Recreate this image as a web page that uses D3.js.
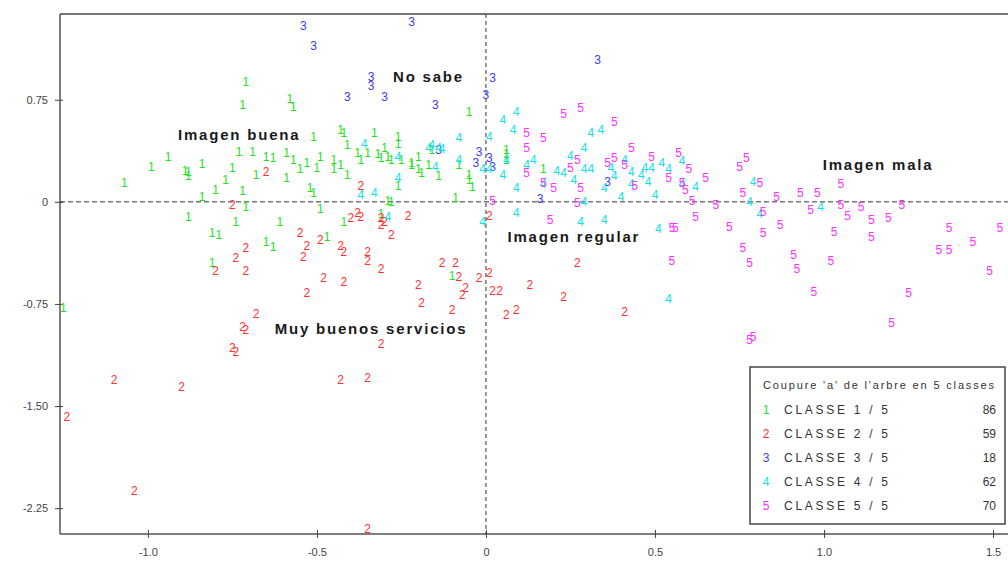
<!DOCTYPE html>
<html>
<head>
<meta charset="utf-8">
<script src="https://cdn.jsdelivr.net/npm/d3@7"></script>
<style>
  body { margin: 0; background: #fff; }
  svg { display: block; font-family: "Liberation Sans", Arial, sans-serif; }
</style>
</head>
<body>
<svg id="chart" width="1008" height="561"></svg>
<script>
// individuals on factorial plane 1-2, one array per class of the tree cut
var class1 = [
  [-0.71,0.88],[-0.72,0.71],[-0.58,0.76],[-0.57,0.70],[-0.51,0.48],[-1.07,0.14],[-0.99,0.26],[-0.94,0.33],
  [-0.89,0.23],[-0.88,0.19],[-0.84,0.28],[-0.75,0.25],[-0.73,0.37],[-0.69,0.37],[-0.65,0.33],[-0.63,0.32],
  [-0.59,0.36],[-0.68,0.20],[-0.59,0.18],[-0.53,0.29],[-0.49,0.33],[-0.45,0.31],[-0.50,0.25],[-0.45,0.24],
  [-0.84,0.04],[-0.80,0.09],[-0.72,0.08],[-0.52,0.10],[-0.51,0.07],[-0.71,-0.04],[-0.49,-0.05],[-0.88,-0.11],
  [-0.74,-0.15],[-0.61,-0.15],[-0.81,-0.23],[-0.79,-0.24],[-0.65,-0.29],[-0.63,-0.33],[-0.47,-0.26],[-0.81,-0.45],
  [-1.25,-0.78],[-0.43,0.53],[-0.41,0.42],[-0.43,0.27],[-0.41,0.20],[-0.33,0.51],[-0.35,0.36],[-0.32,0.35],
  [-0.30,0.40],[-0.29,0.33],[-0.26,0.48],[-0.26,0.43],[-0.22,0.27],[-0.19,0.21],[-0.20,0.33],[-0.14,0.19],
  [-0.05,0.66],[-0.05,0.20],[-0.04,0.11],[-0.09,0.03],[-0.28,0.00],[-0.42,-0.15],[-0.31,-0.09],[-0.26,0.12],
  [-0.10,-0.54],[0.06,0.38],[0.06,0.31],[0.17,0.24],[-0.22,0.29],[-0.38,0.36],[-0.37,0.31],[-0.28,0.31],
  [-0.25,0.31],[-0.17,0.27],[-0.16,0.38],[-0.08,0.27],[-0.55,0.24],[-0.57,0.31],[-0.77,0.16],[-0.42,0.51],
  [-0.31,0.32],[-0.20,0.24],[-0.05,0.16],[-0.29,0.01],[0.06,0.35],[-0.88,0.22]
];
var class2 = [
  [-0.65,0.22],[-0.75,-0.02],[-0.37,0.12],[-0.38,-0.08],[-0.37,-0.11],[-0.31,-0.12],[-0.31,-0.17],[-0.23,-0.10],
  [-0.28,-0.24],[-0.55,-0.23],[-0.53,-0.32],[-0.54,-0.40],[-0.49,-0.28],[-0.43,-0.32],[-0.42,-0.37],[-0.35,-0.37],
  [-0.35,-0.43],[-0.31,-0.49],[-0.71,-0.34],[-0.74,-0.41],[-0.80,-0.51],[-0.71,-0.51],[-0.48,-0.56],[-0.42,-0.59],
  [-0.53,-0.67],[-0.20,-0.61],[-0.19,-0.74],[-0.13,-0.45],[-0.68,-0.82],[-0.72,-0.92],[-0.71,-0.94],[-0.75,-1.07],
  [-0.74,-1.10],[-0.31,-1.04],[-0.43,-1.31],[-0.35,-1.29],[0.01,-0.10],[-0.09,-0.45],[-0.08,-0.55],[-0.06,-0.63],
  [-0.07,-0.68],[-0.02,-0.56],[0.01,-0.52],[0.02,-0.65],[0.04,-0.65],[0.13,-0.61],[0.27,-0.45],[0.23,-0.70],
  [0.41,-0.81],[0.06,-0.83],[0.09,-0.79],[-0.10,-0.79],[-0.35,-2.40],[-1.10,-1.31],[-0.90,-1.36],[-1.24,-1.58],
  [-1.04,-2.12],[-0.40,-0.12],[-0.30,-0.15]
];
var class3 = [
  [-0.54,1.29],[-0.51,1.15],[-0.22,1.32],[0.33,1.04],[-0.34,0.92],[-0.34,0.85],[-0.41,0.77],[-0.30,0.77],
  [-0.15,0.71],[0.02,0.91],[0.00,0.79],[-0.14,0.38],[-0.02,0.37],[-0.03,0.29],[0.01,0.32],[0.02,0.26],
  [0.16,0.02],[0.36,0.15]
];
var class4 = [
  [-0.36,0.43],[-0.26,0.33],[-0.26,0.18],[-0.33,0.07],[-0.37,0.05],[-0.16,0.42],[-0.14,0.40],[-0.13,0.39],
  [-0.08,0.47],[-0.15,0.26],[-0.29,-0.11],[-0.01,-0.15],[-0.01,0.24],[0.01,0.48],[0.05,0.60],[0.09,0.66],
  [0.08,0.53],[0.05,0.20],[0.06,0.31],[0.14,0.31],[0.09,0.10],[0.09,-0.08],[0.25,0.34],[0.21,0.23],
  [0.23,0.21],[0.29,0.24],[0.31,0.24],[0.31,0.51],[0.34,0.53],[0.29,0.40],[0.37,0.25],[0.38,0.19],
  [0.43,0.22],[0.47,0.25],[0.49,0.25],[0.52,0.29],[0.48,0.15],[0.35,0.10],[0.40,0.04],[0.50,0.05],
  [0.29,0.00],[0.35,-0.13],[0.28,-0.15],[0.51,-0.20],[0.58,0.30],[0.58,0.13],[0.62,0.11],[0.79,0.15],
  [0.78,0.00],[0.81,-0.09],[0.99,-0.04],[0.54,-0.71],[-0.17,0.40],[0.01,0.24],[0.12,0.27],[0.26,0.16],
  [0.41,0.31],[0.46,0.20],[0.54,0.24],[0.43,0.13],[0.17,0.13],[-0.08,0.31]
];
var class5 = [
  [0.23,0.65],[0.28,0.69],[0.38,0.59],[0.12,0.51],[0.17,0.47],[0.12,0.40],[0.43,0.40],[0.49,0.33],
  [0.54,0.18],[0.27,0.31],[0.25,0.25],[0.36,0.29],[0.41,0.27],[0.12,0.21],[0.17,0.14],[0.20,0.10],
  [0.28,0.10],[0.44,0.12],[0.27,-0.01],[0.19,-0.13],[0.02,0.01],[0.55,-0.19],[0.55,-0.43],[0.57,0.36],
  [0.60,0.24],[0.65,0.18],[0.58,0.14],[0.61,0.01],[0.62,-0.11],[0.68,-0.02],[0.77,0.32],[0.75,0.26],
  [0.76,0.07],[0.81,0.14],[0.86,0.04],[0.82,-0.07],[0.93,0.07],[0.98,0.07],[1.05,0.13],[0.96,-0.06],
  [1.05,-0.02],[1.07,-0.10],[0.72,-0.18],[0.56,-0.19],[0.82,-0.23],[0.87,-0.17],[1.03,-0.22],[0.76,-0.34],
  [0.78,-0.45],[0.91,-0.39],[0.92,-0.49],[1.02,-0.43],[0.97,-0.66],[0.79,-0.99],[1.11,-0.04],[1.14,-0.13],
  [1.14,-0.26],[1.19,-0.12],[1.23,-0.02],[1.37,-0.19],[1.34,-0.35],[1.37,-0.35],[1.44,-0.29],[1.52,-0.19],
  [1.49,-0.51],[1.25,-0.67],[1.20,-0.89],[0.38,0.32],[0.59,0.09],[0.78,-1.01]
];

var classNames = ["CLASSE  1 / 5", "CLASSE  2 / 5", "CLASSE  3 / 5", "CLASSE  4 / 5", "CLASSE  5 / 5"];
var classCounts = [86, 59, 18, 62, 70];
var legendTitle = "Coupure 'a' de l'arbre en  5 classes";

var xTicks = [-1.0, -0.5, 0, 0.5, 1.0, 1.5];
var xTickLabels = ["-1.0", "-0.5", "0", "0.5", "1.0", "1.5"];
var yTicks = [0.75, 0, -0.75, -1.5, -2.25];
var yTickLabels = ["0.75", "0", "-0.75", "-1.50", "-2.25"];

var zoneNames = ["Imagen buena", "No sabe", "Imagen regular", "Imagen mala", "Muy buenos servicios"];
var zoneX = [-0.73, -0.17, 0.26, 1.16, -0.34];
var zoneY = [0.49, 0.92, -0.26, 0.27, -0.93];

(function () {
  var svg = d3.select("#chart");
  var colors = ["#22e022", "#ff3030", "#3c3cf0", "#10e0e8", "#ff30ff"];
  var classes = [class1, class2, class3, class4, class5];

  var pLeft = 60, pTop = 14, pBottom = 534, pRight = 1008;
  var x = d3.scaleLinear().domain([-1.26, 1.565]).range([pLeft, 1015]);
  var y = d3.scaleLinear().domain([-2.44, 1.38]).range([pBottom, pTop]);

  // frame: top line, left axis, bottom axis
  svg.append("line").attr("x1", pLeft).attr("x2", pRight).attr("y1", pTop).attr("y2", pTop)
    .attr("stroke", "#777").attr("stroke-width", 2);

  var yAxis = svg.append("g").attr("transform", "translate(" + pLeft + ",0)")
    .call(d3.axisLeft(y).tickValues(yTicks).tickSize(4).tickFormat(function(d, i) { return yTickLabels[i]; }));
  yAxis.select(".domain").attr("d", "M0," + pTop + "V" + pBottom).attr("stroke", "#555").attr("stroke-width", 1.5);
  yAxis.selectAll(".tick line").attr("x1", -5).attr("x2", 3).attr("stroke", "#444");
  yAxis.selectAll(".tick text").attr("x", -12).attr("fill", "#444")
    .style("font-size", "11px").style("font-family", "Liberation Sans, Arial, sans-serif");

  var xAxis = svg.append("g").attr("transform", "translate(0," + pBottom + ")")
    .call(d3.axisBottom(x).tickValues(xTicks).tickSize(4).tickFormat(function(d, i) { return xTickLabels[i]; }));
  xAxis.select(".domain").attr("d", "M" + pLeft + ",0H" + pRight).attr("stroke", "#555").attr("stroke-width", 1.5);
  xAxis.selectAll(".tick line").attr("y1", -4).attr("y2", 4).attr("stroke", "#444");
  xAxis.selectAll(".tick text").attr("y", 14).attr("fill", "#444")
    .style("font-size", "11px").style("font-family", "Liberation Sans, Arial, sans-serif");

  // dashed origin lines
  svg.append("line").attr("x1", x(0)).attr("x2", x(0)).attr("y1", pTop).attr("y2", pBottom)
    .attr("stroke", "#333").attr("stroke-dasharray", "4,3");
  svg.append("line").attr("x1", pLeft).attr("x2", pRight).attr("y1", y(0)).attr("y2", y(0))
    .attr("stroke", "#333").attr("stroke-dasharray", "5,3");

  // points as class digits
  classes.forEach(function(pts, k) {
    svg.append("g").selectAll("text").data(pts).enter().append("text")
      .attr("x", function(d) { return x(d[0]); })
      .attr("y", function(d) { return y(d[1]); })
      .attr("dy", "0.35em")
      .attr("text-anchor", "middle")
      .attr("fill", colors[k])
      .style("font-size", "12px")
      .text(k + 1);
  });

  // zone labels
  svg.append("g").selectAll("text").data(zoneNames).enter().append("text")
    .attr("x", function(d, i) { return x(zoneX[i]); })
    .attr("y", function(d, i) { return y(zoneY[i]); })
    .attr("dy", "0.35em")
    .attr("text-anchor", "middle")
    .attr("fill", "#1a1a1a")
    .style("font-size", "15px").style("font-weight", "bold").style("letter-spacing", "1.8px")
    .text(function(d) { return d; });

  // legend
  var lg = svg.append("g");
  lg.append("rect").attr("x", 750).attr("y", 367).attr("width", 255).attr("height", 157)
    .attr("fill", "#fff").attr("stroke", "#444").attr("stroke-width", 1.5);
  lg.append("text").attr("x", 763).attr("y", 389).attr("fill", "#333")
    .style("font-size", "11px").attr("textLength", 231).attr("lengthAdjust", "spacing")
    .text(legendTitle);
  classNames.forEach(function(name, i) {
    var ry = 410 + i * 24;
    lg.append("text").attr("x", 766).attr("y", ry).attr("dy", "0.35em").attr("text-anchor", "middle")
      .attr("fill", colors[i]).style("font-size", "12px").text(i + 1);
    lg.append("text").attr("x", 784).attr("y", ry).attr("dy", "0.35em").attr("fill", "#333")
      .style("font-size", "12px").attr("textLength", 104).attr("lengthAdjust", "spacing").text(name);
    lg.append("text").attr("x", 996).attr("y", ry).attr("dy", "0.35em").attr("text-anchor", "end")
      .attr("fill", "#333").style("font-size", "12px").text(classCounts[i]);
  });
}());
</script>
</body>
</html>
